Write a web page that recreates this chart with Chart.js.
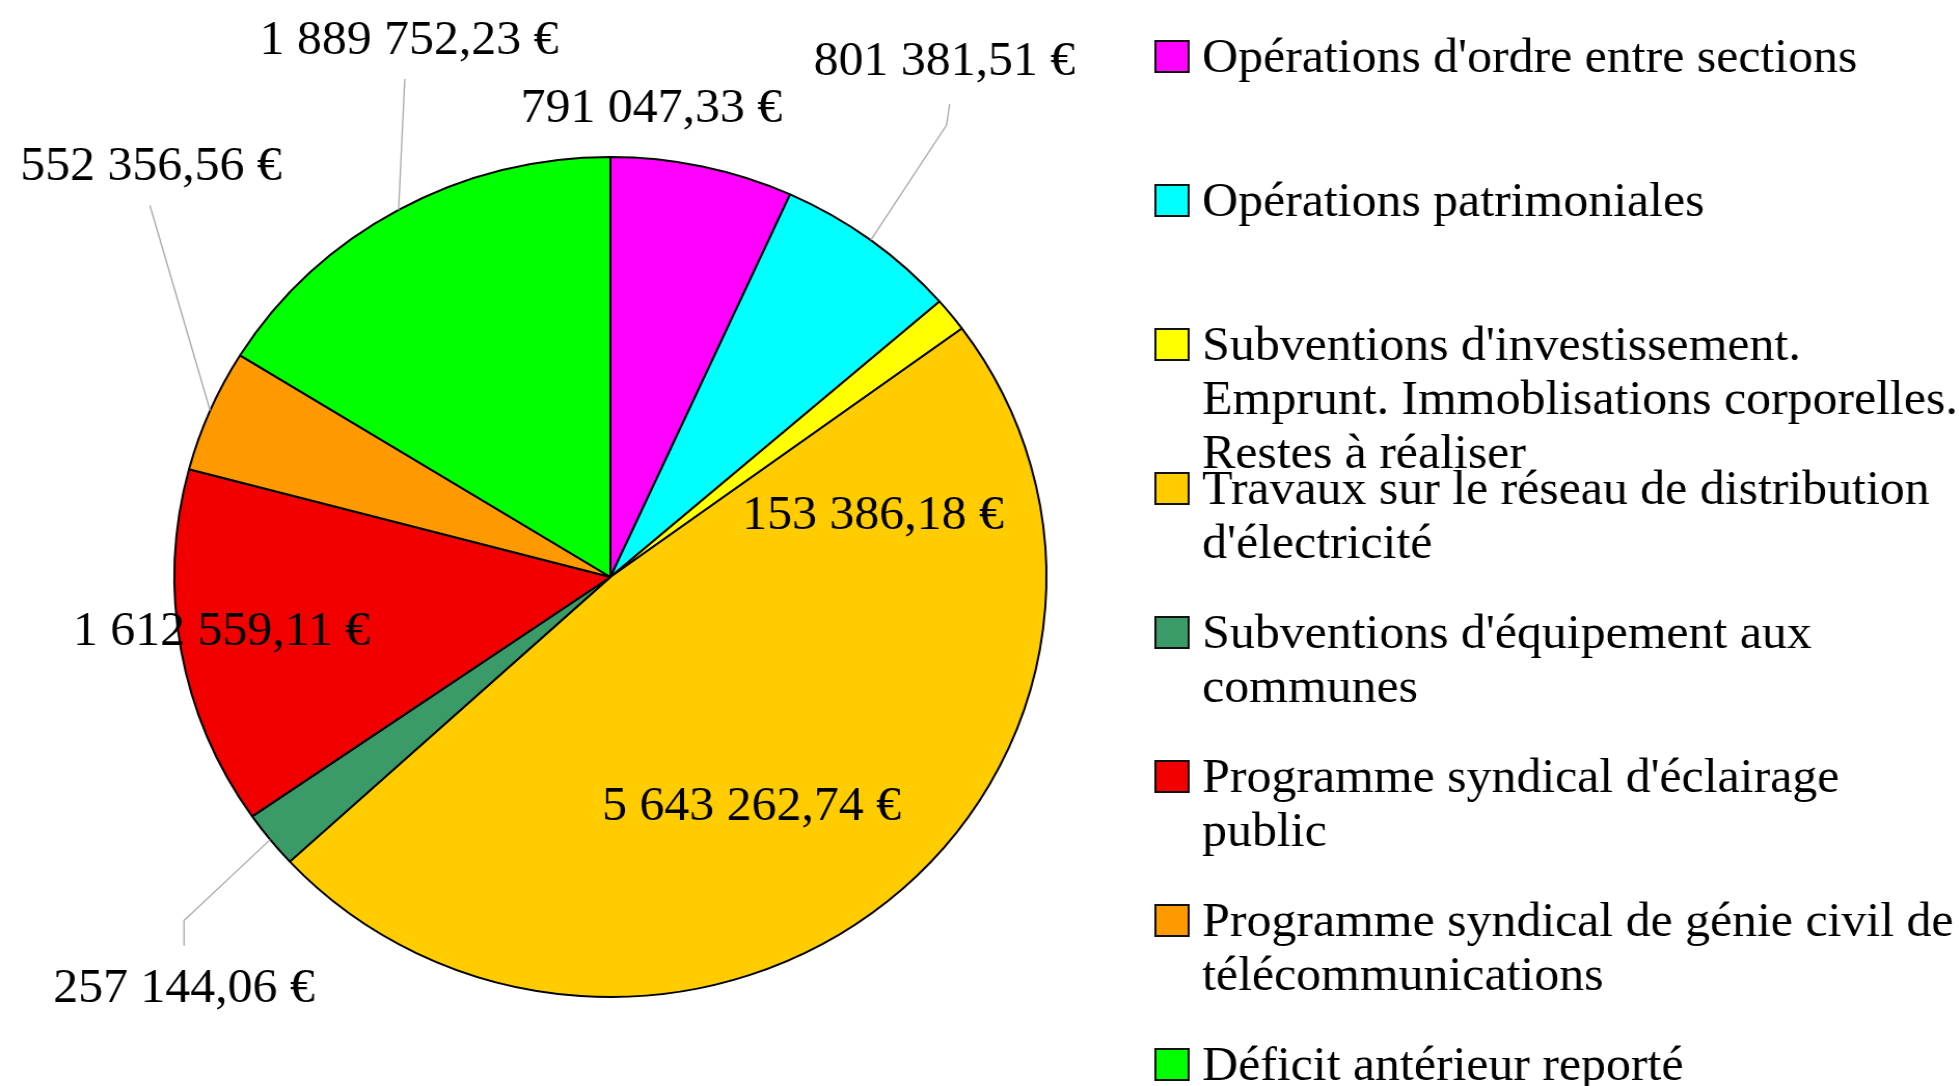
<!DOCTYPE html>
<html>
<head>
<meta charset="utf-8">
<script src="https://cdn.jsdelivr.net/npm/chart.js@4"></script>
<style>
  html, body { margin: 0; padding: 0; background: #fff; overflow: hidden; }
  #wrap { position: absolute; left: 0; top: 0; width: 1887px; height: 1086px; transform: scaleX(1.0381); transform-origin: 0 0; }
</style>
</head>
<body>
<div id="wrap"><canvas id="c" width="1887" height="1086" style="width:1887px;height:1086px"></canvas></div>
<script>
// ---- data ----
const categories = [
  ["Opérations d'ordre entre sections"],
  ["Opérations patrimoniales"],
  ["Subventions d'investissement.", "Emprunt. Immoblisations corporelles.", "Restes à réaliser"],
  ["Travaux sur le réseau de distribution", "d'électricité"],
  ["Subventions d'équipement aux", "communes"],
  ["Programme syndical d'éclairage", "public"],
  ["Programme syndical de génie civil de", "télécommunications"],
  ["Déficit antérieur reporté"]
];
const amounts = [791047.33, 801381.51, 153386.18, 5643262.74, 257144.06, 1612559.11, 552356.56, 1889752.23];
const sliceColors = ["#FF00FF", "#00FFFF", "#FFFF00", "#FFCC00", "#3A9A68", "#F20000", "#FF9900", "#00FF00"];

// ---- label placement (style, relative to each slice's outer edge at mid-angle) ----
const labelPlacement = [
  { dx: -49, dy: -60 },
  { dx: 71, dy: -181, leader: [[2, 66], [5, 45]] },
  { dx: -75, dy: 198 },
  { dx: -131, dy: -97 },
  { dx: -83, dy: 146, leader: [[0, -65], [0, -40]] },
  { dx: 39, dy: -21 },
  { dx: -57, dy: -246, leader: [[-1, 41]] },
  { dx: 10, dy: -172, leader: [[-4, 41]] }
];

const FONT = "48px 'Liberation Serif', 'Times New Roman', serif";

function fmtEuro(v) {
  const parts = v.toFixed(2).split('.');
  const intPart = parts[0].replace(/\B(?=(\d{3})+(?!\d))/g, ' ');
  return intPart + ',' + parts[1] + ' €';
}

const labelsPlugin = {
  id: 'valueLabels',
  afterDatasetsDraw(chart) {
    const ctx = chart.ctx;
    const meta = chart.getDatasetMeta(0);
    const values = chart.data.datasets[0].data;
    ctx.save();
    meta.data.forEach((arc, i) => {
      const { x, y, startAngle, endAngle, outerRadius } =
        arc.getProps(['x', 'y', 'startAngle', 'endAngle', 'outerRadius'], true);
      const mid = (startAngle + endAngle) / 2;
      const ex = x + Math.cos(mid) * outerRadius;
      const ey = y + Math.sin(mid) * outerRadius;
      const p = labelPlacement[i];
      const lx = ex + p.dx, ly = ey + p.dy;
      if (p.leader) {
        ctx.beginPath();
        ctx.strokeStyle = '#A8A8A8';
        ctx.lineWidth = 1.3;
        ctx.moveTo(ex, ey);
        p.leader.forEach(pt => ctx.lineTo(lx + pt[0], ly + pt[1]));
        ctx.stroke();
      }
      ctx.font = FONT;
      ctx.fillStyle = '#000';
      ctx.textAlign = 'center';
      ctx.textBaseline = 'alphabetic';
      ctx.fillText(fmtEuro(values[i]), lx, ly + 16);
    });
    ctx.restore();
  },
  afterDraw(chart) {
    // legend, one fixed-height row per category
    const ctx = chart.ctx;
    const items = chart.options.plugins.legend.labels.generateLabels(chart);
    ctx.save();
    ctx.font = FONT;
    ctx.textAlign = 'left';
    ctx.textBaseline = 'alphabetic';
    items.forEach((it, i) => {
      const top = 41 + 144 * i;
      ctx.fillStyle = it.fillStyle;
      ctx.fillRect(1113, top, 32, 31);
      ctx.strokeStyle = '#111';
      ctx.lineWidth = 2;
      ctx.strokeRect(1113, top, 32, 31);
      ctx.fillStyle = '#000';
      const lines = Array.isArray(it.text) ? it.text : [it.text];
      lines.forEach((ln, j) => ctx.fillText(ln, 1158, top + 31 + 54 * j));
    });
    ctx.restore();
  }
};

new Chart(document.getElementById('c'), {
  type: 'pie',
  data: {
    labels: categories,
    datasets: [{
      data: amounts,
      backgroundColor: sliceColors,
      borderColor: '#000',
      borderWidth: 2,
      hoverOffset: 0,
      radius: 420
    }]
  },
  options: {
    responsive: false,
    devicePixelRatio: 1,
    animation: false,
    layout: { padding: { left: 168, right: 879, top: 157, bottom: 89 } },
    plugins: {
      legend: { display: false },
      tooltip: { enabled: false }
    }
  },
  plugins: [labelsPlugin]
});
</script>
</body>
</html>
